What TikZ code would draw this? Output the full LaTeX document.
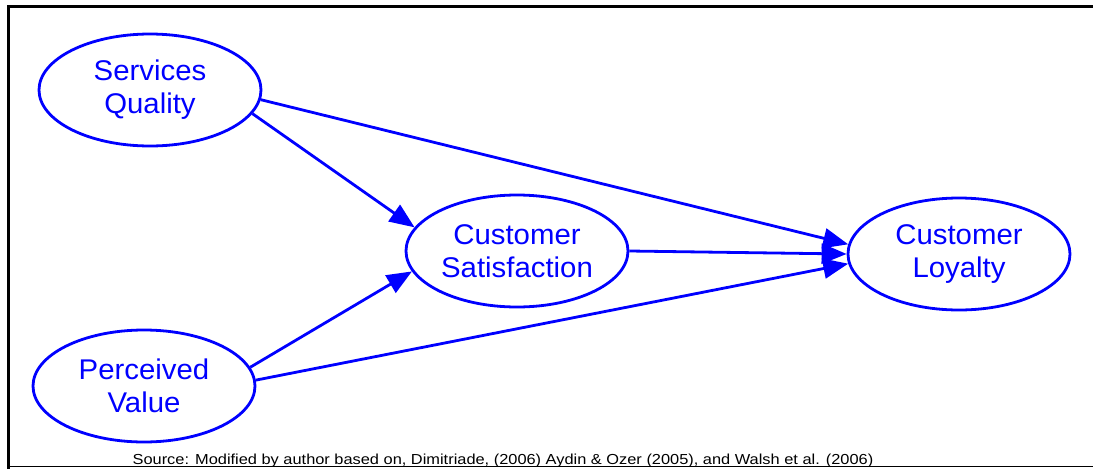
\documentclass[tikz,border=0pt]{standalone}
\usepackage{fontspec}
\setmainfont{Liberation Sans}
\newfontfamily\srcfont[FakeStretch=1.13]{Liberation Sans}
\newfontfamily\labelfont[FakeStretch=1.03]{Liberation Sans}
\usetikzlibrary{shapes.geometric,arrows.meta}
\definecolor{diagblue}{RGB}{0,0,255}
\begin{document}
\begin{tikzpicture}[x=1pt,y=-1pt,
  construct/.style={ellipse,draw=diagblue,line width=2.8pt,minimum width=222pt,minimum height=112pt,inner sep=0pt,
    text=diagblue,align=center,font=\labelfont\fontsize{28.5}{33}\selectfont},
  link/.style={draw=diagblue,line width=2.8pt,-{Triangle[length=25pt,width=20pt]}}]
\useasboundingbox (0,0) rectangle (1093,469);
% frame
\draw[line width=3pt] (7,6.5) -- (1093,6.5);
\draw[line width=3pt] (8.5,5) -- (8.5,469);
\draw[line width=1.5pt] (8.5,466.5) -- (1093,466.5);
% constructs
\node[construct] (sq) at (150,90) {Services\\Quality};
\node[construct] (pv) at (144,386) {Perceived\\Value};
\node[construct] (cs) at (517,251) {Customer\\Satisfaction};
\node[construct] (cl) at (959,254) {Customer\\Loyalty};
% links
\draw[link] (sq.-13) -- (cs.167);
\draw[link] (sq.-5) -- (cl.175);
\draw[link] (cs.east) -- (cl.west);
\draw[link] (pv.10) -- (cs.191);
\draw[link] (pv.3) -- (cl.185);
% source
\node[anchor=base,font=\srcfont\fontsize{14.5}{17}\selectfont,inner sep=0pt] (src) at (503,464.5)
  {Source: Modified by author based on, Dimitriade, (2006) Aydin \& Ozer (2005), and Walsh et al. (2006)};
\end{tikzpicture}
\end{document}
